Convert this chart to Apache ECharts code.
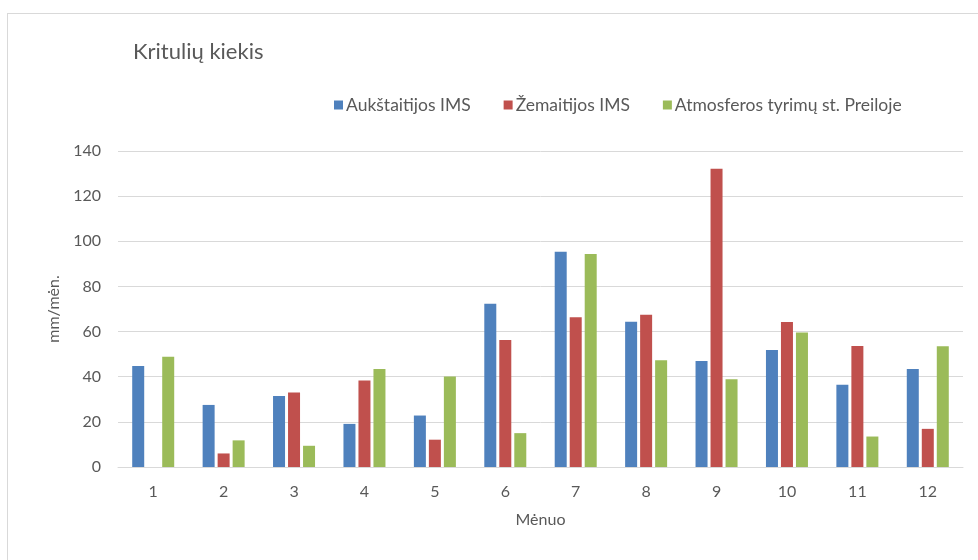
<!DOCTYPE html>
<html>
<head>
<meta charset="utf-8">
<script src="https://cdn.jsdelivr.net/npm/echarts@6/dist/echarts.min.js"></script>
<style>
    html, body { margin: 0; padding: 0; background: #fff; }
    #frame {
        position: absolute; left: 7px; top: 13px; right: 0; bottom: 0;
        border-left: 1px solid #d9d9d9; border-top: 1px solid #d9d9d9;
    }
    #chart { position: absolute; left: 0; top: 0; width: 978px; height: 560px; }
</style>
</head>
<body>
<div id="frame"></div>
<div id="chart"></div>
<script>
var months = ['1', '2', '3', '4', '5', '6', '7', '8', '9', '10', '11', '12'];
var seriesNames = ['Aukštaitijos IMS', 'Žemaitijos IMS', 'Atmosferos tyrimų st. Preiloje'];
var aukstaitija = [44.8, 27.5, 31.5, 19.1, 22.8, 72.3, 95.4, 64.4, 47.0, 51.8, 36.4, 43.4];
var zemaitija = [0, 6.0, 33.0, 38.3, 12.1, 56.3, 66.3, 67.5, 132.1, 64.2, 53.6, 16.9];
var preila = [48.9, 11.8, 9.4, 43.4, 40.1, 15.0, 94.4, 47.3, 38.9, 59.6, 13.5, 53.5];
var yTicks = [0, 20, 40, 60, 80, 100, 120, 140];

var colors = ['#4F81BD', '#C0504D', '#9BBB59'];
var font = 'Lato, "Liberation Sans", sans-serif';
var textColor = '#595959';

var myChart = echarts.init(document.getElementById('chart'));

var series = [aukstaitija, zemaitija, preila].map(function(values, idx) {
    return {
        name: seriesNames[idx],
        type: 'bar',
        data: values,
        barWidth: 12,
        barGap: '25%',
        itemStyle: { color: colors[idx] }
    };
});

var option = {
    backgroundColor: 'transparent',
    animation: false,
    color: colors,
    title: {
        text: 'Kritulių kiekis',
        left: 128,
        top: 36,
        textStyle: { fontFamily: font, fontSize: 22, fontWeight: 'normal', color: textColor }
    },
    legend: {
        left: 329,
        top: 91,
        itemWidth: 9,
        itemHeight: 9,
        itemGap: 33,
        icon: 'rect',
        textStyle: { fontFamily: font, fontSize: 17.5, color: textColor, padding: [0, 0, 0, -2] },
        data: seriesNames
    },
    grid: { left: 118, right: 15, top: 151, bottom: 93 },
    xAxis: {
        type: 'category',
        data: months,
        name: 'Mėnuo',
        nameLocation: 'middle',
        nameGap: 45,
        nameTextStyle: { fontFamily: font, fontSize: 16, color: textColor },
        axisLine: { lineStyle: { color: '#d9d9d9', width: 1 } },
        axisTick: { show: false },
        axisLabel: { fontFamily: font, fontSize: 16, color: textColor, margin: 17 }
    },
    yAxis: {
        type: 'value',
        min: 0,
        max: 140,
        interval: 20,
        name: 'mm/mėn.',
        nameLocation: 'middle',
        nameGap: 55,
        nameTextStyle: { fontFamily: font, fontSize: 16, color: textColor },
        axisLine: { show: false },
        axisTick: { show: false },
        axisLabel: {
            fontFamily: font, fontSize: 16, color: textColor, margin: 17,
            formatter: function(v) { return yTicks.indexOf(v) > -1 ? String(v) : ''; }
        },
        splitLine: { lineStyle: { color: '#d9d9d9', width: 1 } }
    },
    series: series
};

myChart.setOption(option);
</script>
</body>
</html>
